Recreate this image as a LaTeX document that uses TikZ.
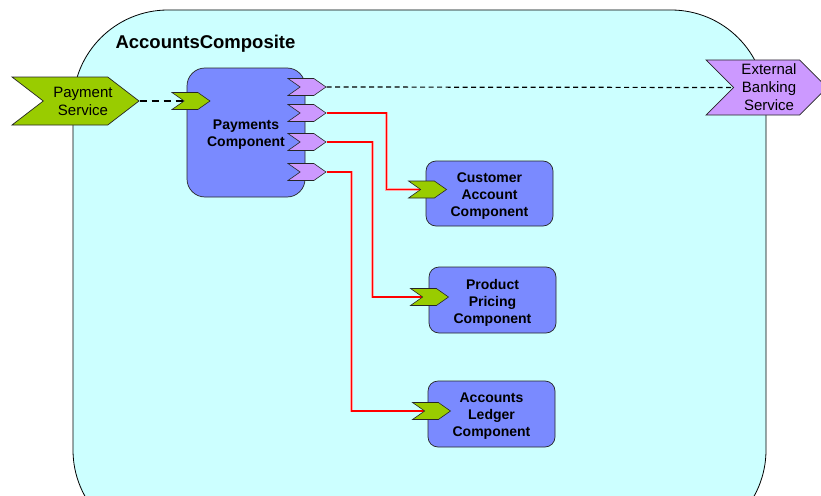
\documentclass[tikz,border=0pt]{standalone}
\usepackage{fontspec}
\setmainfont{Liberation Sans}
\usetikzlibrary{shapes.symbols}
\definecolor{compcyan}{HTML}{CCFFFF}
\definecolor{portgreen}{HTML}{99CC00}
\definecolor{portpurple}{HTML}{CC99FF}
\definecolor{compblue}{HTML}{7A8AFF}
\tikzset{
  port/.style={shape=signal, signal from=west, signal to=east, signal pointer angle=70,
    draw=black!85, line width=0.6pt, minimum width=38pt, minimum height=17pt, inner sep=0pt},
  inport/.style={port, fill=portgreen},
  outport/.style={port, fill=portpurple},
  comp/.style={rectangle, rounded corners=10pt, draw=black!85, line width=0.7pt, fill=compblue,
    inner sep=0pt},
  comptext/.style={font=\bfseries\fontsize{14}{17}\selectfont, align=center, inner sep=0pt},
  service/.style={shape=signal, signal from=west, signal to=east, draw=black!85, line width=0.7pt,
    inner sep=0pt},
  servicetext/.style={font=\fontsize{15}{18}\selectfont, align=center, inner sep=0pt},
  wire/.style={draw=red, line width=1.6pt, preaction={draw=red!35, line width=2.6pt}},
  thickdash/.style={draw=black, line width=2.2pt, dash pattern=on 7pt off 5pt},
  thindash/.style={draw=black, line width=1.2pt, dash pattern=on 5pt off 3.5pt},
}
\begin{document}
\begin{tikzpicture}[x=1pt,y=-1pt]
\clip (0,0) rectangle (821,495);
\fill[white] (0,0) rectangle (821,495);
% composite
\draw[fill=compcyan, draw=black, line width=0.8pt, rounded corners=95pt] (73,10) rectangle (766,545);
\node[anchor=west, font=\bfseries\fontsize{18.5}{22}\selectfont] (title) at (112,44) {AccountsComposite};
% components
\node[comp, minimum width=118pt, minimum height=129pt, rounded corners=18pt] (pay) at (246,132.5) {};
\node[comptext] (paytext) at ([yshift=-2pt]pay.center) {Payments\\Component};
\node[comp, minimum width=127pt, minimum height=65pt] (cust) at (489.5,193.5) {};
\node[comptext] (custtext) at ([yshift=-2.5pt]cust.center) {Customer\\Account\\Component};
\node[comp, minimum width=127pt, minimum height=66pt] (prod) at (492.5,300) {};
\node[comptext] (prodtext) at ([yshift=-2.5pt]prod.center) {Product\\Pricing\\Component};
\node[comp, minimum width=127pt, minimum height=66pt] (ledg) at (491.5,414) {};
\node[comptext] (ledgtext) at ([yshift=-2.5pt]ledg.center) {Accounts\\Ledger\\Component};
% services
\node[service, fill=portgreen, signal pointer angle=75, minimum width=127pt, minimum height=48pt] (ps) at (75.5,101) {};
\node[servicetext] (pstext) at (83,101) {Payment\\Service};
\node[service, fill=portpurple, signal pointer angle=90, minimum width=121pt, minimum height=55pt] (ext) at (766.5,87.5) {};
\node[servicetext] (exttext) at (769,87.5) {External\\Banking\\Service};
% ports
\node[inport] (pin) at (191,101) {};
\node[outport] (p1) at (307,87) {};
\node[outport] (p2) at (307,113) {};
\node[outport] (p3) at (307,142) {};
\node[outport] (p4) at (307,172) {};
% connectors
\draw[thickdash] (ps.east) -- (pin.west);
\draw[thindash] (p1.east) -- (ext.west);
\coordinate (cinc) at (427.5,189.5);
\coordinate (princ) at (429.5,297);
\coordinate (linc) at (431.5,411);
\draw[wire] (p2.east) -- ++(60,0) |- (cinc);
\draw[wire] (p3.east) -- ++(46,0) |- (princ);
\draw[wire] (p4.east) -- ++(25,0) |- (linc);
\node[inport] (cin) at (cinc) {};
\node[inport] (prin) at (princ) {};
\node[inport] (lin) at (linc) {};
\end{tikzpicture}
\end{document}
